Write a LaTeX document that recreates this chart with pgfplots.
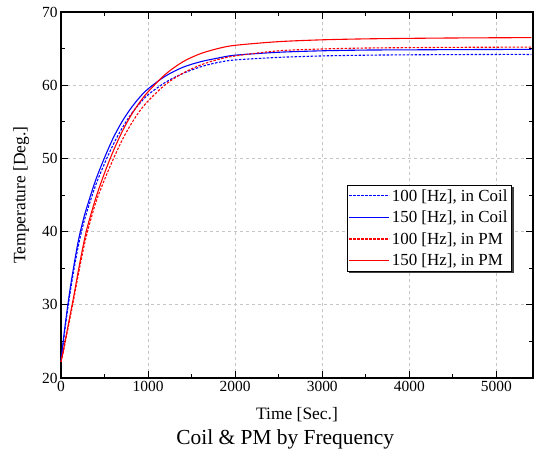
\documentclass[border=0pt]{standalone}
\usepackage{fontspec}
\setmainfont{Liberation Serif}
\usepackage{pgfplots}
\pgfplotsset{compat=1.18}
\begin{document}
\begin{tikzpicture}
\begin{axis}[
 scale only axis, width=472bp, height=366bp,
 xmin=0, xmax=5420, ymin=20, ymax=70,
 xtick={0,1000,...,5000}, ytick={20,30,...,70},
 minor x tick num=1, minor y tick num=1,
 tick align=inside, major tick length=7bp, minor tick length=4bp,
 grid=major, major grid style={dashed, gray!45, line width=0.7bp},
 axis line style={line width=1.1bp},
 every tick/.style={black, line width=0.9bp},
 tick label style={font=\fontsize{15.5}{17}\selectfont},
 /pgf/number format/assume math mode=true,
 /pgf/number format/1000 sep={},
 xlabel={Time [Sec.]}, ylabel={Temperature [Deg.]},
 label style={font=\fontsize{17.5}{20}\selectfont},
 xlabel style={yshift=-9bp},
 ylabel style={yshift=6bp},
 clip=false,
 legend cell align=left,
 legend style={at={(rel axis cs:0.955,0.527)}, anchor=north east, name=leg,
   font=\fontsize{17}{20}\selectfont,
   inner xsep=2bp, inner ysep=2bp, row sep=4.3bp},
 legend image code/.code={\draw[#1, line width=1.1bp] (0bp,0bp) -- (40bp,0bp);},
 every axis plot/.append style={line width=1.1bp},
]
\addplot[blue, smooth, dash pattern=on 2.5bp off 1.5bp] coordinates {
(0,22.3)(25,24.7)(50,27.1)(100,31.3)(150,34.9)(200,38.1)(250,40.7)(300,42.8)
(400,46.4)(500,49.3)(600,51.9)(700,54.1)(800,55.96)(900,57.45)(1000,58.7)
(1200,60.4)(1400,61.6)(1600,62.5)(1800,63.1)(2000,63.45)(2500,63.8)(3000,64.0)
(3500,64.1)(4000,64.15)(4500,64.18)(5000,64.2)(5400,64.2)};
\addlegendentry{100 [Hz], in Coil}
\addplot[blue, smooth] coordinates {
(0,22.3)(25,24.95)(50,27.45)(100,31.8)(150,35.5)(200,38.8)(250,41.35)(300,43.45)
(400,47.1)(500,50.1)(600,52.8)(700,55.0)(800,56.8)(900,58.3)(1000,59.5)
(1200,61.25)(1400,62.45)(1600,63.2)(1800,63.7)(2000,64.1)(2500,64.5)(3000,64.7)
(3500,64.8)(4000,64.83)(4500,64.86)(5000,64.88)(5400,64.9)};
\addlegendentry{150 [Hz], in Coil}
\addplot[red, smooth, dash pattern=on 2.5bp off 1.5bp] coordinates {
(0,22.2)(25,23.5)(50,25.0)(100,28.0)(150,31.0)(200,34.2)(250,37.2)(300,39.8)
(400,44.0)(500,47.1)(600,49.9)(700,52.45)(800,54.6)(900,56.4)(1000,57.85)
(1200,60.1)(1400,61.65)(1600,62.75)(1800,63.5)(2000,64.0)(2500,64.7)(3000,64.95)
(3500,65.08)(4000,65.13)(4500,65.17)(5000,65.19)(5400,65.2)};
\addlegendentry{100 [Hz], in PM}
\addplot[red, smooth] coordinates {
(0,22.2)(25,23.6)(50,25.2)(100,28.3)(150,31.4)(200,34.7)(250,37.8)(300,40.5)
(400,44.6)(500,48.0)(600,51.0)(700,53.6)(800,55.8)(900,57.6)(1000,59.1)
(1200,61.5)(1400,63.2)(1600,64.3)(1800,65.0)(2000,65.45)(2500,65.95)(3000,66.2)
(3500,66.33)(4000,66.4)(4500,66.45)(5000,66.48)(5400,66.5)};
\addlegendentry{150 [Hz], in PM}
\coordinate (bl) at (rel axis cs:0,0);
\coordinate (tr) at (rel axis cs:1,1);
\node[font=\fontsize{21.5}{25}\selectfont, anchor=center] at ([yshift=-61bp]rel axis cs:0.475,0) {Coil \& PM by Frequency};
\end{axis}
\draw[black!75, line width=1.3bp] ([xshift=1.2bp,yshift=-2bp]leg.north east) -- ([xshift=1.2bp,yshift=-1.2bp]leg.south east) -- ([xshift=2bp,yshift=-1.2bp]leg.south west);
\pgfresetboundingbox
\path[use as bounding box] ([shift={(-61bp,-74bp)}]bl) rectangle ([shift={(4bp,12bp)}]tr);
\end{tikzpicture}
\end{document}
